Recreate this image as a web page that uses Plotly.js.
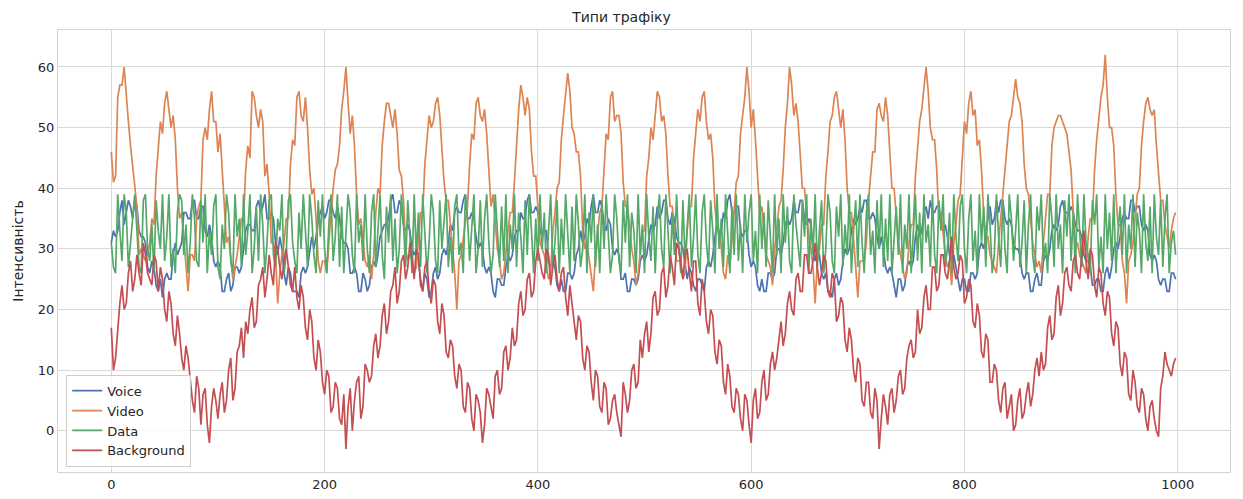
<!DOCTYPE html>
<html>
<head>
<meta charset="utf-8">
<script src="https://cdn.plot.ly/plotly-3.0.1.min.js"></script>
<style>html,body{margin:0;padding:0;background:#fff;}#chart{width:1243px;height:499px;}</style>
</head>
<body>
<div id="chart"></div>
<script>
// Values read every 2 time units (0, 2, 4, ... 998)
const sampleStart = 0;
const sampleStep = 2;
const seriesNames = ["Voice", "Video", "Data", "Background"];
const xTicks = [0, 200, 400, 600, 800, 1000];
const yTicks = [0, 10, 20, 30, 40, 50, 60];

const voice = [
31,33,32,33,36,38,34,36,38,37,35,38,37,33,32,32,31,27,26,28,27,24,23,25,22,25,26,25,25,29,31,29,
30,31,36,36,35,35,38,38,35,35,37,37,33,32,34,32,28,27,28,27,23,23,25,26,23,24,27,27,26,27,30,33,
34,34,33,33,37,38,36,37,39,35,35,36,35,31,29,32,30,26,24,27,26,23,23,23,22,26,27,26,27,30,32,30,
32,35,36,37,35,36,38,38,36,35,37,35,32,31,31,30,26,26,27,26,23,23,26,25,23,24,27,28,27,29,32,33,
34,34,35,38,39,36,36,38,37,34,33,34,33,30,29,30,28,25,23,26,25,22,23,26,27,25,26,29,30,29,31,34,
33,36,37,36,36,38,39,35,35,36,35,32,30,31,30,27,26,27,26,23,22,25,25,24,24,27,29,28,29,32,33,33,
36,35,35,38,39,36,36,37,36,33,32,33,33,28,27,28,27,24,23,25,23,23,26,26,25,26,29,30,33,31,32,35,
34,37,39,36,36,38,37,34,33,35,34,30,29,30,29,25,25,26,23,23,25,25,24,25,28,29,28,29,32,34,33,34,
37,35,36,38,38,35,34,36,35,32,31,31,30,27,25,27,26,24,23,25,25,24,23,27,28,27,29,32,34,32,33,36,
35,38,39,36,36,37,37,33,32,33,33,29,27,28,27,24,23,25,23,23,26,26,25,26,30,30,29,31,34,35,34,35,
38,36,36,38,38,35,34,35,34,30,28,30,29,26,25,26,23,23,22,25,26,24,25,28,30,29,30,33,35,34,35,37,
36,38,38,35,35,36,35,32,30,32,30,27,26,27,26,24,22,25,25,23,24,27,28,27,28,32,34,32,33,36,37,35,
38,36,36,37,37,34,33,34,32,29,28,29,27,25,23,25,25,23,23,26,26,25,26,30,31,30,32,35,37,34,35,38,
36,38,38,35,34,35,34,31,30,30,29,26,25,26,26,23,23,25,26,24,24,28,29,28,30,33,34,33,34,37,38,36,
36,36,37,36,34,33,33,32,29,28,28,27,24,24,25,25,23,23,26,27,25,27,30,31,30,32,35,36,35,35,38,38,
36,37,37,34,33,34,33,29,28,29,28,25,24,25,25,23,23,26,26,25
];

const video = [
46,41,42,55,57,57,60,55,51,47,44,40,37,29,30,29,28,29,31,35,
34,42,47,51,49,54,56,53,50,52,48,40,35,36,32,27,23,29,29,28,
35,37,38,48,50,48,53,56,51,51,46,49,43,35,31,32,29,25,27,29,
32,35,35,43,47,45,56,55,52,50,53,51,42,44,39,31,31,29,21,26,
29,31,35,35,44,48,47,55,56,52,51,55,50,43,39,40,35,28,26,28,
28,26,31,36,40,43,44,47,53,56,60,54,49,52,47,39,34,35,31,28,
27,29,25,29,36,40,39,47,51,54,54,52,50,53,49,43,42,38,30,28,
29,29,26,27,32,36,36,44,48,52,50,51,54,55,52,47,41,38,38,34,
30,26,20,28,29,32,35,37,44,49,48,54,55,52,51,53,49,43,37,39,
34,30,28,25,26,30,33,36,36,41,48,53,57,55,52,55,53,46,42,42,
37,31,30,29,27,25,26,33,36,40,41,48,52,55,59,56,50,49,46,46,
42,33,30,31,28,25,23,29,32,36,37,44,49,48,55,56,51,52,52,49,
41,37,37,34,30,28,24,26,30,33,33,42,45,50,48,52,56,55,51,52,
49,42,37,37,33,28,28,28,25,26,33,37,37,45,49,53,51,55,56,51,
48,49,45,37,33,33,30,26,25,29,27,32,37,41,42,49,52,55,60,56,
50,53,48,41,36,37,33,29,28,27,24,30,33,37,38,43,50,54,60,57,
52,54,51,45,40,40,36,32,30,27,21,28,30,34,34,42,46,51,52,55,
56,53,50,53,48,40,36,36,32,27,22,28,28,28,31,38,42,46,46,53,
54,52,51,55,52,45,40,40,36,31,29,27,25,26,31,34,34,42,47,51,
53,57,60,56,50,48,48,43,35,36,32,29,27,28,24,31,34,38,39,46,
51,49,54,56,52,53,47,48,43,36,32,32,29,28,27,26,31,35,38,43,
46,51,52,55,58,55,54,51,44,40,39,35,31,29,27,28,26,31,35,39,
39,47,50,51,52,52,51,50,49,46,43,36,31,31,29,28,27,26,32,35,
35,43,48,52,55,57,62,55,50,50,47,39,34,34,28,26,21,28,29,31,
35,39,40,47,51,54,55,53,52,53,47,43,38,38,34,32,30,33,35,36
];

const data = [
31,27,26,39,33,28,39,36,27,31,35,39,33,27,26,38,39,30,28,34,26,38,33,30,39,
28,32,39,27,30,26,36,39,38,29,34,26,31,39,35,28,27,38,31,39,26,33,29,37,39,
27,25,34,30,39,36,28,26,39,32,35,27,39,29,33,39,26,30,37,28,39,34,26,31,38,
39,29,27,35,33,39,26,29,38,39,31,28,26,36,30,39,33,27,39,35,29,26,38,32,39,
30,26,34,39,28,32,39,27,37,26,33,39,36,29,26,39,31,34,28,39,30,26,36,39,27,
33,39,29,25,37,31,39,28,35,26,30,39,34,27,38,32,26,39,29,36,27,39,33,26,31,
39,36,28,26,38,30,34,39,27,32,26,37,39,29,31,26,39,35,28,33,39,26,30,38,27,
35,39,31,26,29,39,33,27,37,28,39,26,34,30,39,27,36,32,26,38,29,39,33,26,35,
28,39,30,36,26,33,39,27,31,38,26,35,29,39,32,26,37,28,39,34,27,30,39,26,36,
31,39,27,34,26,38,30,39,33,26,29,39,35,28,26,38,31,39,27,36,33,26,39,29,34,
26,39,32,28,37,26,35,39,30,27,39,33,26,36,29,39,31,26,38,28,34,39,27,32,39,
29,26,36,39,31,27,38,33,26,39,30,35,27,39,32,26,37,29,39,28,34,26,39,31,36,
39,28,33,26,39,30,36,27,38,32,26,39,29,35,26,39,31,37,28,26,39,34,30,27,38,
32,39,26,35,29,39,27,33,38,26,30,39,36,28,26,37,32,39,27,34,29,39,26,33,38,
27,39,31,26,36,39,29,33,26,38,30,39,27,35,28,39,26,32,37,29,39,26,34,30,39,
26,33,39,28,36,26,39,31,34,27,39,29,26,38,33,39,27,30,36,26,39,32,28,37,39,
30,26,35,39,28,33,26,39,31,37,27,39,34,26,29,39,32,27,38,30,26,39,35,28,33,
39,27,31,38,26,34,39,29,26,37,33,39,28,31,26,39,35,27,39,30,34,26,38,32,39,
28,36,26,39,33,27,39,31,29,26,38,34,39,27,32,26,39,30,36,28,39,26,33,37,29,
39,26,34,30,39,27,36,33,26,39,31,28,37,26,39,32,29,38,27,35,39,26,31,33,29
];

const background = [
17,10,12,17,21,24,20,21,26,28,23,25,29,26,24,31,29,26,25,24,29,28,23,27,25,20,18,23,21,16,14,19,
16,12,10,14,12,8,5,3,9,7,1,6,7,1,-2,4,7,5,2,6,8,3,5,10,12,5,7,13,14,17,12,18,
16,20,22,17,18,24,25,27,22,25,29,26,24,31,30,27,25,28,30,27,24,23,27,22,20,24,22,17,15,20,18,12,
10,15,13,8,6,10,9,3,4,8,7,2,1,6,-3,4,7,0,5,8,9,2,4,11,10,8,9,14,16,12,
14,19,21,16,18,23,24,27,21,23,28,29,25,27,31,28,25,30,29,24,23,27,28,23,21,25,24,18,16,21,19,13,
12,15,14,9,7,11,10,4,3,8,7,2,0,6,5,3,-2,1,7,6,4,2,9,10,6,7,13,14,10,12,
17,14,15,21,23,19,20,25,26,22,23,28,30,28,26,25,30,29,24,27,29,25,23,26,27,22,19,24,21,17,15,19,
18,12,10,14,13,8,5,10,9,4,3,8,7,1,2,5,6,3,1,-1,8,6,3,5,10,11,7,8,15,12,
16,18,13,16,22,23,19,20,26,27,22,24,29,27,24,31,30,27,25,29,30,26,23,28,28,21,19,25,23,18,16,20,
19,13,11,15,14,8,6,11,9,4,3,7,6,2,0,6,5,1,-2,5,7,2,3,8,10,5,6,11,13,10,
12,15,18,14,16,21,23,20,19,25,26,23,23,29,29,26,26,28,31,27,24,26,29,28,23,22,26,25,18,19,22,21,
15,13,17,15,10,8,12,11,5,4,8,8,3,2,7,5,-3,2,6,4,1,6,7,3,5,9,10,6,7,12,
14,15,12,13,20,16,17,22,24,20,20,27,27,23,24,29,29,26,25,28,32,27,25,26,29,28,21,22,25,24,18,17,
21,19,13,12,16,15,8,8,11,10,5,3,7,8,2,4,6,0,1,5,7,2,3,6,8,4,6,10,12,9,
13,10,11,17,19,15,16,22,24,19,21,26,27,24,23,28,29,26,25,29,33,28,25,30,29,24,22,27,26,21,19,23,
22,16,14,18,17,11,9,13,12,6,5,10,8,4,3,7,6,2,0,4,5,2,0,-1,7,9,13,11,10,9,11,12
];

const colors = ["#4C72B0", "#DD8452", "#55A868", "#C44E52"];
const seriesValues = [voice, video, data, background];

const traces = seriesNames.map((name, i) => ({
  type: "scatter",
  mode: "lines",
  name: name,
  x0: sampleStart,
  dx: sampleStep,
  y: seriesValues[i],
  line: { color: colors[i], width: 1.7 }
}));

const axisCommon = {
  showgrid: true,
  gridcolor: "#d9d9d9",
  gridwidth: 1,
  zeroline: false,
  showline: true,
  mirror: true,
  linecolor: "#d4d4d4",
  linewidth: 1,
  ticks: "",
  tickfont: { family: "DejaVu Sans", size: 13, color: "#262626" }
};

const layout = {
  width: 1243,
  height: 499,
  margin: { l: 58, r: 13, t: 30, b: 27 },
  paper_bgcolor: "#ffffff",
  plot_bgcolor: "#ffffff",
  font: { family: "DejaVu Sans", color: "#262626" },
  title: {
    text: "Типи трафіку",
    font: { family: "DejaVu Sans", size: 14, color: "#262626" },
    x: 0.5, xanchor: "center", y: 0.966, yanchor: "middle"
  },
  xaxis: Object.assign({}, axisCommon, {
    range: [-50, 1049],
    tickvals: xTicks,
    ticktext: xTicks.map(String)
  }),
  yaxis: Object.assign({}, axisCommon, {
    range: [-6.8, 66.1],
    tickvals: yTicks,
    ticktext: yTicks.map(String),
    title: { text: "Інтенсивність", font: { family: "DejaVu Sans", size: 14, color: "#262626" }, standoff: 10 }
  }),
  showlegend: true,
  legend: {
    x: 0.007, y: 0.012, xanchor: "left", yanchor: "bottom",
    bgcolor: "rgba(255,255,255,0.8)",
    bordercolor: "#cccccc", borderwidth: 1,
    font: { family: "DejaVu Sans", size: 13, color: "#262626" },
    tracegroupgap: 0,
    itemwidth: 30
  }
};

Plotly.newPlot("chart", traces, layout, { staticPlot: true, displayModeBar: false });
</script>
</body>
</html>
